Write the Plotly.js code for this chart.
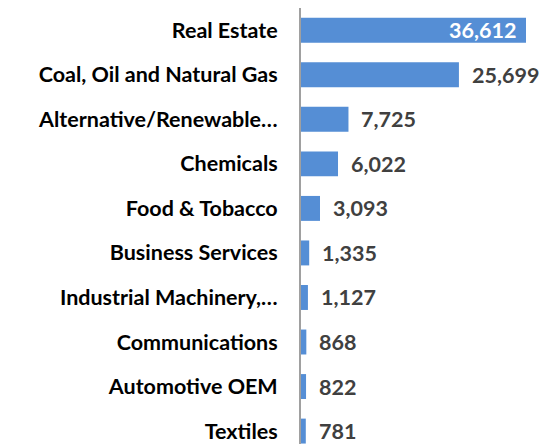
<!DOCTYPE html>
<html>
<head>
<meta charset="utf-8">
<script src="https://cdn.plot.ly/plotly-3.0.1.min.js"></script>
<style>html,body{margin:0;padding:0;background:#fff;}#chart{width:542px;height:444px;}</style>
</head>
<body>
<div id="chart"></div>
<script>
const categories = ["Real Estate","Coal, Oil and Natural Gas","Alternative/Renewable…","Chemicals","Food & Tobacco","Business Services","Industrial Machinery,…","Communications","Automotive OEM","Textiles"];
const values = [36612,25699,7725,6022,3093,1335,1127,868,822,781];
const valueLabels = ["36,612","25,699","7,725","6,022","3,093","1,335","1,127","868","822","781"];

const FONT = "Lato, 'Open Sans', sans-serif";
const annotations = values.map((v,i)=>{
  const inside = i===0;
  return {
    x: v, y: categories[i], xref:'x', yref:'y',
    text: valueLabels[i], showarrow:false,
    xanchor: inside ? 'right' : 'left',
    xshift: inside ? -8 : 11,
    font: {family: FONT, size: 21.5, color: inside ? '#ffffff' : '#404040', weight: 'bold'}
  };
});

const trace = {
  type:'bar', orientation:'h',
  x: values, y: categories,
  marker:{color:'#558ed5'},
  width: 0.56,
  hoverinfo:'none'
};

const layout = {
  width:542, height:444,
  margin:{l:301, r:0, t:8, b:0},
  paper_bgcolor:'#fff', plot_bgcolor:'#fff',
  showlegend:false,
  xaxis:{range:[0,39216], showgrid:false, zeroline:false, showticklabels:false, showline:false, fixedrange:true},
  yaxis:{type:'category', range:[9.29,-0.5], showgrid:false, zeroline:false,
    showline:true, linecolor:'#a0a0a0', linewidth:2, ticks:'', ticklabelstandoff:17,
    tickfont:{family:FONT, size:21.5, color:'#000', weight:'bold'}},
  annotations: annotations
};
Plotly.newPlot('chart',[trace],layout,{staticPlot:true});
</script>
</body>
</html>
